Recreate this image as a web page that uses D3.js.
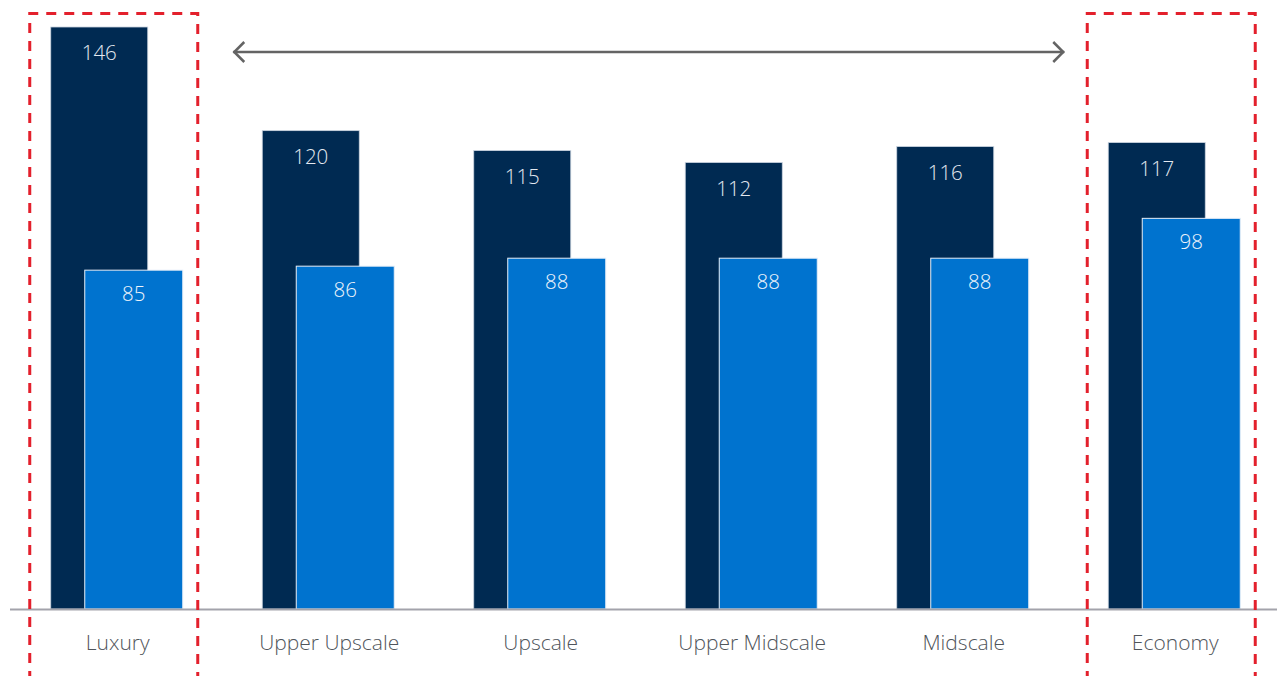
<!DOCTYPE html>
<html>
<head>
<meta charset="utf-8">
<script src="https://cdn.jsdelivr.net/npm/d3@7"></script>
<style>
  body { margin: 0; background: #fff; }
  text { font-family: "Open Sans", "Noto Sans", sans-serif; }
</style>
</head>
<body>
<script>
// chart data
var categories = ["Luxury", "Upper Upscale", "Upscale", "Upper Midscale", "Midscale", "Economy"];
var darkValues = [146, 120, 115, 112, 116, 117];
var lightValues = [85, 86, 88, 88, 88, 98];
var boxedCategories = ["Luxury", "Economy"];

var width = 1277, height = 676;
var baseY = 609;

var svg = d3.select("body").append("svg")
    .attr("width", width)
    .attr("height", height)
    .style("display", "block");

// scales
var x = d3.scaleBand().domain(categories).range([11, 1280]).padding(0);
var y = d3.scaleLinear().domain([0, 146]).range([baseY, 27]);

var center = function(c) { return x(c) + x.bandwidth() / 2; };
var barW = 97;

// dark bars
svg.append("g").selectAll("rect")
    .data(categories)
  .enter().append("rect")
    .attr("x", function(c) { return center(c) - 66; })
    .attr("y", function(c, i) { return y(darkValues[i]); })
    .attr("width", barW)
    .attr("height", function(c, i) { return baseY - y(darkValues[i]); })
    .attr("fill", "#002a52")
    .attr("stroke", "#c9d3df")
    .attr("stroke-width", 0.8);

// light bars
svg.append("g").selectAll("rect")
    .data(categories)
  .enter().append("rect")
    .attr("x", function(c) { return center(c) - 32; })
    .attr("y", function(c, i) { return y(lightValues[i]); })
    .attr("width", barW + 1)
    .attr("height", function(c, i) { return baseY - y(lightValues[i]); })
    .attr("fill", "#0073cf")
    .attr("stroke", "#e6eef8")
    .attr("stroke-width", 1);

// value labels
svg.append("g").selectAll("text")
    .data(categories)
  .enter().append("text")
    .attr("x", function(c) { return center(c) - 66 + barW / 2; })
    .attr("y", function(c, i) { return y(darkValues[i]) + 33; })
    .attr("text-anchor", "middle")
    .attr("font-size", 20.5)
    .attr("font-weight", 300)
    .attr("fill", "#e4e9f0")
    .text(function(c, i) { return darkValues[i]; });

svg.append("g").selectAll("text")
    .data(categories)
  .enter().append("text")
    .attr("x", function(c) { return center(c) - 32 + (barW + 1) / 2; })
    .attr("y", function(c, i) { return y(lightValues[i]) + 31; })
    .attr("text-anchor", "middle")
    .attr("font-size", 20.5)
    .attr("font-weight", 300)
    .attr("fill", "#eef4fb")
    .text(function(c, i) { return lightValues[i]; });

// baseline
svg.append("line")
    .attr("x1", 10).attr("x2", 1277)
    .attr("y1", baseY + 0.5).attr("y2", baseY + 0.5)
    .attr("stroke", "#a3a3ab")
    .attr("stroke-width", 2);

// category labels
svg.append("g").selectAll("text")
    .data(categories)
  .enter().append("text")
    .attr("x", function(c) { return center(c) + 1; })
    .attr("y", 650)
    .attr("text-anchor", "middle")
    .attr("font-size", 21)
    .attr("font-weight", 300)
    .attr("fill", "#50555b")
    .text(function(c) { return c; });

// red dashed boxes
svg.append("g").selectAll("path")
    .data(boxedCategories)
  .enter().append("path")
    .attr("d", function(c) {
      var l = center(c) - 87, r = center(c) + 81;
      return "M" + l + "," + (height + 5) + "V13.5H" + r + "V" + (height + 5);
    })
    .attr("fill", "none")
    .attr("stroke", "#e3202c")
    .attr("stroke-width", 3)
    .attr("stroke-dasharray", "10,8");

// double arrow between the boxes
var ax1 = center("Upper Upscale") - 95, ax2 = center("Economy") - 110;
svg.append("line")
    .attr("x1", ax1).attr("x2", ax2)
    .attr("y1", 52).attr("y2", 52)
    .attr("stroke", "#646464")
    .attr("stroke-width", 2.5);
svg.append("path")
    .attr("d", "M" + (ax1 + 11) + ",42L" + (ax1 + 1) + ",52L" + (ax1 + 11) + ",62" +
               "M" + (ax2 - 11) + ",42L" + (ax2 - 1) + ",52L" + (ax2 - 11) + ",62")
    .attr("fill", "none")
    .attr("stroke", "#646464")
    .attr("stroke-width", 2.5);
</script>
</body>
</html>
